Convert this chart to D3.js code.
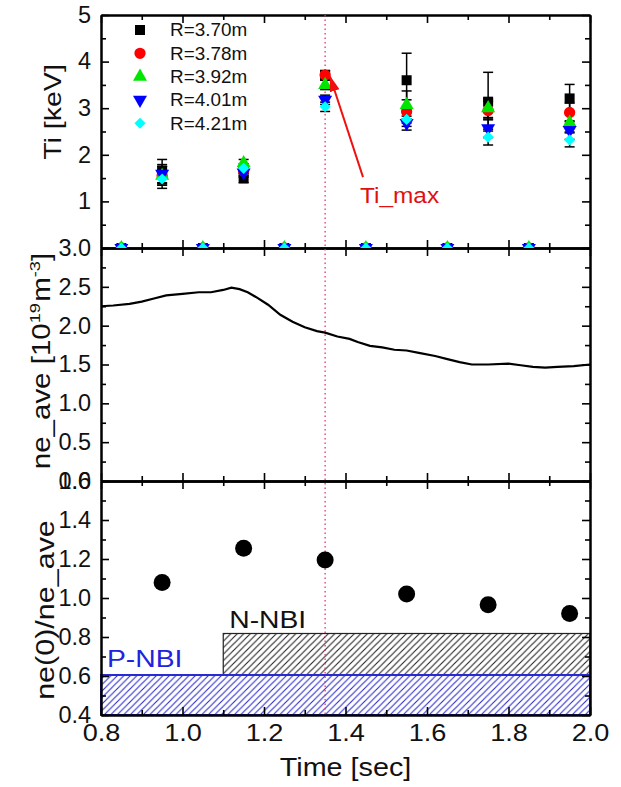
<!DOCTYPE html>
<html>
<head>
<meta charset="utf-8">
<script src="https://cdn.jsdelivr.net/npm/d3@7"></script>
<style>
body{margin:0;background:#fff;}
text{font-family:"Liberation Sans",Arial,sans-serif;}
</style>
</head>
<body>
<script>
// ---- data ----
var tiTimes=[0.85,0.95,1.05,1.15,1.25,1.35,1.45,1.55,1.65,1.75,1.85,1.95];
var seriesNames=["R=3.70m","R=3.78m","R=3.92m","R=4.01m","R=4.21m"];
var seriesColors=["#000000","#ff0000","#00e600","#0000ff","#00ffff"];
var ti370=[0,1.65,0,1.50,0,3.70,0,3.60,0,3.14,0,3.21];
var ti378=[0,1.55,0,1.65,0,3.71,0,2.93,0,2.95,0,2.91];
var ti392=[0,1.55,0,1.82,0,3.50,0,3.07,0,3.00,0,2.69];
var ti401=[0,1.59,0,1.62,0,3.18,0,2.68,0,2.57,0,2.53];
var ti421=[0,1.48,0,1.71,0,3.03,0,2.76,0,2.38,0,2.32];
var err370=[0,0.25,0,0.10,0,0.10,0,0.58,0,0.63,0,0.30];
var err378=[0,0.20,0,0.10,0,0.10,0,0.25,0,0.20,0,0.20];
var err392=[0,0.20,0,0.08,0,0.10,0,0.30,0,0.20,0,0.20];
var err401=[0,0.20,0,0.10,0,0.10,0,0.15,0,0.20,0,0.20];
var err421=[0,0.20,0,0.10,0,0.10,0,0.15,0,0.17,0,0.15];

var neTime=[0.80,0.83,0.87,0.90,0.93,0.96,1.00,1.04,1.07,1.10,1.12,1.14,1.16,1.18,1.21,1.24,1.27,1.30,1.33,1.35,
            1.38,1.41,1.43,1.46,1.49,1.52,1.55,1.58,1.62,1.65,1.68,1.71,1.75,1.80,1.83,1.86,1.89,1.92,1.96,2.00];
var neVal=[2.25,2.26,2.28,2.31,2.35,2.39,2.41,2.43,2.43,2.46,2.49,2.47,2.43,2.37,2.27,2.14,2.05,1.98,1.93,1.91,
           1.86,1.83,1.79,1.74,1.72,1.69,1.68,1.65,1.61,1.57,1.53,1.50,1.50,1.51,1.49,1.47,1.46,1.47,1.48,1.50];

var ratioTime=[0.95,1.15,1.35,1.55,1.75,1.95];
var ratioVal=[1.08,1.255,1.195,1.02,0.965,0.92];

var nbiNames=["P-NBI","N-NBI"];
var nbiStart=[0.8,1.1];
var nbiEnd=[2.0,2.0];
var nbiLow=[0.4,0.605];
var nbiHigh=[0.605,0.818];

var tiMaxTime=1.35;

var xTicks=[0.8,1.0,1.2,1.4,1.6,1.8,2.0];
var xMinor=[0.9,1.1,1.3,1.5,1.7,1.9];
var tiTicks=[0,1,2,3,4,5], tiMinor=[0.5,1.5,2.5,3.5,4.5];
var neTicks=[0,0.5,1.0,1.5,2.0,2.5,3.0], neMinor=[0.25,0.75,1.25,1.75,2.25,2.75];
var rTicks=[0.4,0.6,0.8,1.0,1.2,1.4,1.6], rMinor=[0.5,0.7,0.9,1.1,1.3,1.5];

var tiSeries=[ti370,ti378,ti392,ti401,ti421];
var errSeries=[err370,err378,err392,err401,err421];

// ---- layout ----
var width=621,height=787;
var left=101,right=590;
var p1={top:15,bottom:248}, p2={top:248,bottom:481}, p3={top:481,bottom:715};

var svg=d3.select('body').append('svg').attr('width',width).attr('height',height);

var x=d3.scaleLinear().domain([0.8,2.0]).range([left,right]);
var yTi=d3.scaleLinear().domain([0,5]).range([p1.bottom,p1.top]);
var yNe=d3.scaleLinear().domain([0,3]).range([p2.bottom,p2.top]);
var yR=d3.scaleLinear().domain([0.4,1.6]).range([p3.bottom,p3.top]);

var defs=svg.append('defs');
defs.append('clipPath').attr('id','clipTi').append('rect')
    .attr('x',left).attr('y',p1.top).attr('width',right-left).attr('height',p1.bottom-p1.top);
function hatch(id,color){
    var p=defs.append('pattern').attr('id',id).attr('patternUnits','userSpaceOnUse')
        .attr('width',6.5).attr('height',6.5);
    p.append('path').attr('d','M-1,1L1,-1M0,6.5L6.5,0M5.5,7.5L7.5,5.5')
        .attr('stroke',color).attr('stroke-width',1.1);
}
hatch('hatchBlue','#2a2ad0');
hatch('hatchBlack','#222');
defs.append('marker').attr('id','arrow').attr('markerUnits','userSpaceOnUse')
    .attr('markerWidth',16).attr('markerHeight',10).attr('refX',15).attr('refY',5)
    .attr('orient','auto')
    .append('path').attr('d','M0,0L16,5L0,10z').attr('fill','#f01010');

// stretch a text horizontally (the figure's lettering is wide)
function widen(sel,k){
    sel.each(function(){
        var t=d3.select(this);
        var tx=+t.attr('x')||0;
        t.attr('x',0).attr('transform','translate('+tx+',0) scale('+k+',1)');
    });
}
function label(g,px,py,str,size,k,rot){
    var holder=g.append('g').attr('transform','translate('+px+','+py+')'+(rot?' rotate(-90)':'')+' scale('+k+',1)');
    return holder.append('text').attr('font-size',size).text(str);
}

function axes(yScale,panel,major,minor,fmt,xLabels){
    var g=svg.append('g');
    var l=g.append('g').attr('transform','translate('+left+',0)')
        .call(d3.axisLeft(yScale).tickValues(major).tickSize(-8).tickSizeOuter(0).tickPadding(10).tickFormat(fmt));
    l.selectAll('text').attr('font-size',23).attr('fill','#111');
    widen(l.selectAll('.tick text'),1.02);
    g.append('g').attr('transform','translate('+left+',0)')
        .call(d3.axisLeft(yScale).tickValues(minor).tickSize(-5).tickSizeOuter(0).tickFormat(''));
    g.append('g').attr('transform','translate('+right+',0)')
        .call(d3.axisRight(yScale).tickValues(major).tickSize(-8).tickSizeOuter(0).tickFormat(''));
    g.append('g').attr('transform','translate('+right+',0)')
        .call(d3.axisRight(yScale).tickValues(minor).tickSize(-5).tickSizeOuter(0).tickFormat(''));
    g.append('g').attr('transform','translate(0,'+panel.top+')')
        .call(d3.axisTop(x).tickValues(xTicks).tickSize(-8).tickSizeOuter(0).tickFormat(''));
    g.append('g').attr('transform','translate(0,'+panel.top+')')
        .call(d3.axisTop(x).tickValues(xMinor).tickSize(-5).tickSizeOuter(0).tickFormat(''));
    var b=g.append('g').attr('transform','translate(0,'+panel.bottom+')')
        .call(d3.axisBottom(x).tickValues(xTicks).tickSize(-8).tickSizeOuter(0).tickPadding(9)
        .tickFormat(xLabels?d3.format('.1f'):''));
    b.selectAll('text').attr('font-size',24).attr('fill','#111');
    widen(b.selectAll('.tick text'),1.13);
    g.append('g').attr('transform','translate(0,'+panel.bottom+')')
        .call(d3.axisBottom(x).tickValues(xMinor).tickSize(-5).tickSizeOuter(0).tickFormat(''));
    g.selectAll('.tick line').attr('stroke','#000').attr('stroke-width',1.6);
    g.selectAll('.domain').attr('stroke','#000').attr('stroke-width',2);
}

// ---- bottom panel: NBI bars ----
var bars=svg.append('g');
bars.selectAll('rect').data(nbiNames).enter().append('rect')
    .attr('x',function(d,i){return x(nbiStart[i]);})
    .attr('y',function(d,i){return yR(nbiHigh[i]);})
    .attr('width',function(d,i){return x(nbiEnd[i])-x(nbiStart[i]);})
    .attr('height',function(d,i){return yR(nbiLow[i])-yR(nbiHigh[i]);})
    .attr('fill',function(d,i){return i==0?'url(#hatchBlue)':'url(#hatchBlack)';})
    .attr('stroke',function(d,i){return i==0?'#2a2ad0':'#222';})
    .attr('stroke-width',function(d,i){return i==0?2:1.2;});
// keep the blue top edge of P-NBI above the N-NBI outline
bars.append('line').attr('x1',x(nbiStart[0])).attr('x2',x(nbiEnd[0]))
    .attr('y1',yR(nbiHigh[0])).attr('y2',yR(nbiHigh[0])).attr('stroke','#2a2ad0').attr('stroke-width',2);
label(svg,x(nbiStart[1])+6,628,nbiNames[1],23,1.23).attr('fill','#111');
label(svg,x(nbiStart[0])+6,667,nbiNames[0],23,1.23).attr('fill','#2222dd');

// ---- frames / axes ----
// the Ti "0" sits under the "3.0" of the middle panel, so leave it blank
axes(yTi,p1,tiTicks,tiMinor,function(d){return d==0?'':d3.format('d')(d);},false);
axes(yNe,p2,neTicks,neMinor,d3.format('.1f'),false);
axes(yR,p3,rTicks,rMinor,d3.format('.1f'),true);

// dotted marker at the Ti maximum time
svg.append('line').attr('x1',x(tiMaxTime)).attr('x2',x(tiMaxTime))
    .attr('y1',p1.top).attr('y2',p3.bottom)
    .attr('stroke','#e23a5c').attr('stroke-width',1.3).attr('stroke-dasharray','1.5,3');

// ---- top panel: Ti ----
var tiG=svg.append('g').attr('clip-path','url(#clipTi)');
tiSeries.forEach(function(vals,s){
    var eb=tiG.append('g').attr('stroke','#000').attr('stroke-width',1.5);
    tiTimes.forEach(function(t,i){
        var e=errSeries[s][i];
        if(e<=0) return;
        var cx=x(t);
        eb.append('line').attr('x1',cx).attr('x2',cx).attr('y1',yTi(vals[i]-e)).attr('y2',yTi(vals[i]+e));
        eb.append('line').attr('x1',cx-5).attr('x2',cx+5).attr('y1',yTi(vals[i]-e)).attr('y2',yTi(vals[i]-e));
        eb.append('line').attr('x1',cx-5).attr('x2',cx+5).attr('y1',yTi(vals[i]+e)).attr('y2',yTi(vals[i]+e));
    });
});
var symbols=[
    {type:d3.symbolSquare,size:100,rot:0},
    {type:d3.symbolCircle,size:100,rot:0},
    {type:d3.symbolTriangle,size:85,rot:0},
    {type:d3.symbolTriangle,size:85,rot:180},
    {type:d3.symbolSquare,size:62,rot:45}
];
tiSeries.forEach(function(vals,s){
    var sym=d3.symbol().type(symbols[s].type).size(symbols[s].size);
    tiG.selectAll('.s'+s).data(vals).enter().append('path')
        .attr('d',sym)
        .attr('transform',function(d,i){return 'translate('+x(tiTimes[i])+','+yTi(d)+') rotate('+symbols[s].rot+')';})
        .attr('fill',seriesColors[s]);
});

// legend
var leg=svg.append('g');
seriesNames.forEach(function(n,s){
    var ly=30+s*23.3;
    var sym=d3.symbol().type(symbols[s].type).size(symbols[s].size);
    leg.append('path').attr('d',sym)
        .attr('transform','translate(140,'+ly+') rotate('+symbols[s].rot+')')
        .attr('fill',seriesColors[s]);
    label(leg,170,ly,n,18,1.05).attr('dy','0.36em').attr('fill','#111');
});

// Ti_max annotation
svg.append('line').attr('x1',x(1.443)).attr('y1',yTi(1.52)).attr('x2',x(1.362)).attr('y2',yTi(3.68))
    .attr('stroke','#f01010').attr('stroke-width',2).attr('marker-end','url(#arrow)');
label(svg,360,203,'Ti_max',22,1.11).attr('fill','#e01010');

// ---- middle panel: ne_ave ----
var line=d3.line().x(function(d,i){return x(neTime[i]);}).y(function(d){return yNe(d);});
svg.append('path').datum(neVal).attr('d',line)
    .attr('fill','none').attr('stroke','#000').attr('stroke-width',2.2);

// ---- bottom panel: ratio ----
svg.append('g').selectAll('circle').data(ratioVal).enter().append('circle')
    .attr('cx',function(d,i){return x(ratioTime[i]);})
    .attr('cy',function(d){return yR(d);})
    .attr('r',8.5).attr('fill','#000');

// ---- axis titles ----
label(svg,61,112,'Ti [keV]',24,1.19,true).attr('text-anchor','middle').attr('fill','#111');
var neT=label(svg,50,361,'',25,1.18,true).attr('text-anchor','middle').attr('fill','#111');
neT.append('tspan').text('ne_ave [10');
neT.append('tspan').attr('font-size',15.5).attr('dy',-10.5).text('19');
neT.append('tspan').attr('dy',10.5).attr('dx',1).text('m');
neT.append('tspan').attr('font-size',15.5).attr('dy',-10.5).text('-3');
neT.append('tspan').attr('dy',10.5).text(']');
label(svg,54,610,'ne(0)/ne_ave',25,1.22,true).attr('text-anchor','middle').attr('fill','#111');
label(svg,(left+right)/2,776,'Time [sec]',25,1.15).attr('text-anchor','middle').attr('fill','#111');
</script>
</body>
</html>
